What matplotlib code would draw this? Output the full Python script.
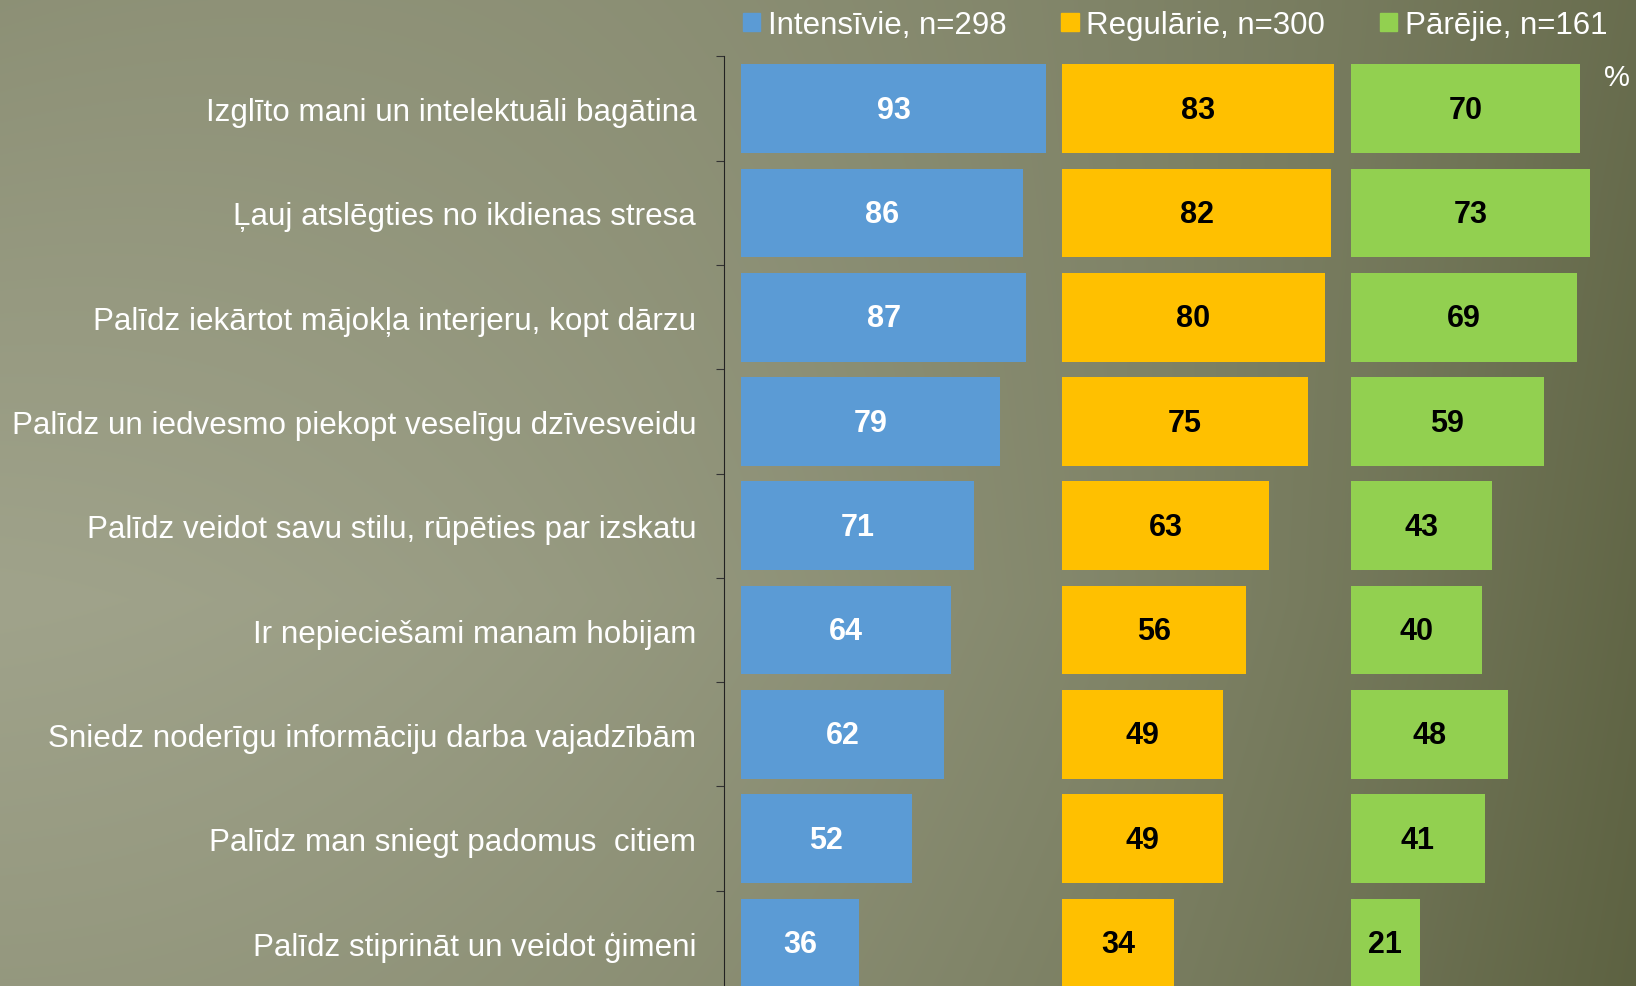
import numpy as np
import matplotlib.pyplot as plt
from matplotlib.patches import Patch

# data
categories = [
    'Izglīto mani un intelektuāli bagātina',
    'Ļauj atslēgties no ikdienas stresa',
    'Palīdz iekārtot mājokļa interjeru, kopt dārzu',
    'Palīdz un iedvesmo piekopt veselīgu dzīvesveidu',
    'Palīdz veidot savu stilu, rūpēties par izskatu',
    'Ir nepieciešami manam hobijam',
    'Sniedz noderīgu informāciju darba vajadzībām',
    'Palīdz man sniegt padomus  citiem',
    'Palīdz stiprināt un veidot ģimeni',
]
intensive = [93, 86, 87, 79, 71, 64, 62, 52, 36]
regular = [83, 82, 80, 75, 63, 56, 49, 49, 34]
other = [70, 73, 69, 59, 43, 40, 48, 41, 21]
series_names = ['Intensīvie, n=298', 'Regulārie, n=300', 'Pārējie, n=161']

colors = ['#5B9BD5', '#FFC000', '#92D050']
text_colors = ['white', 'black', 'black']
offsets = [0, 98, 186]

plt.rcParams['font.family'] = ['Liberation Sans', 'DejaVu Sans']

W, H = 1636, 987
fig = plt.figure(figsize=(W / 100, H / 100), dpi=100)

# background gradient: light on the left middle, dark towards bottom right
yy, xx = np.mgrid[0:H, 0:W].astype(float)
u = xx / W
g = 0.75 * u ** 2
hl = np.where(yy < 600, (600 - yy) / 600 * 0.27, (yy - 600) / 387 * 0.16)
hr = 0.02 + 0.16 * yy / H
t = np.clip(g + (1 - u) * hl + u * hr, 0, 1)[..., None]
light = np.array([0xa0, 0xa3, 0x8b]) / 255
dark = np.array([0x58, 0x5d, 0x3c]) / 255
img = light * (1 - t) + dark * t
bg = fig.add_axes([0, 0, 1, 1], zorder=0)
bg.imshow(img, aspect='auto', extent=[0, 1, 0, 1])
bg.axis('off')

ax = fig.add_axes([724 / W, 0.9418 - 0.951, 1 - 724 / W, 0.951], zorder=1)
ax.set_facecolor('none')

y = np.arange(len(categories))
for vals, off, c, tc in zip([intensive, regular, other], offsets, colors, text_colors):
    ax.barh(y, vals, left=off, height=0.85, color=c)
    for yi, v in zip(y, vals):
        ax.text(off + v / 2, yi + 0.01, str(v), ha='center', va='center',
                color=tc, fontsize=22, fontweight='bold')

ax.set_xlim(-5.2, 273)
ax.set_ylim(8.5, -0.5)

ax.set_yticks(np.arange(-0.5, 9, 1))
ax.set_yticklabels([])
ax.set_yticks(y, minor=True)
ax.set_yticklabels(categories, minor=True, color='white', fontsize=22.6)
ax.tick_params(axis='y', which='major', direction='out', length=6, color='#333333')
ax.tick_params(axis='y', which='minor', length=0, pad=20)
ax.set_xticks([])
for s in ['top', 'right', 'bottom']:
    ax.spines[s].set_visible(False)
ax.spines['left'].set_color('#222222')

handles = [Patch(color=c) for c in colors]
fig.legend(handles, series_names, loc='center left', bbox_to_anchor=(743 / W, 1 - 26 / H),
           ncol=3, frameon=False, borderaxespad=0, borderpad=0,
           handlelength=0.55, handleheight=0.55, handletextpad=0.25, columnspacing=1.75,
           prop={'size': 22.5}, labelcolor='white')

fig.text(1617 / W, 1 - 78 / H, '%', color='white', fontsize=21, ha='center', va='center')

fig.savefig('out.png', dpi=100)
